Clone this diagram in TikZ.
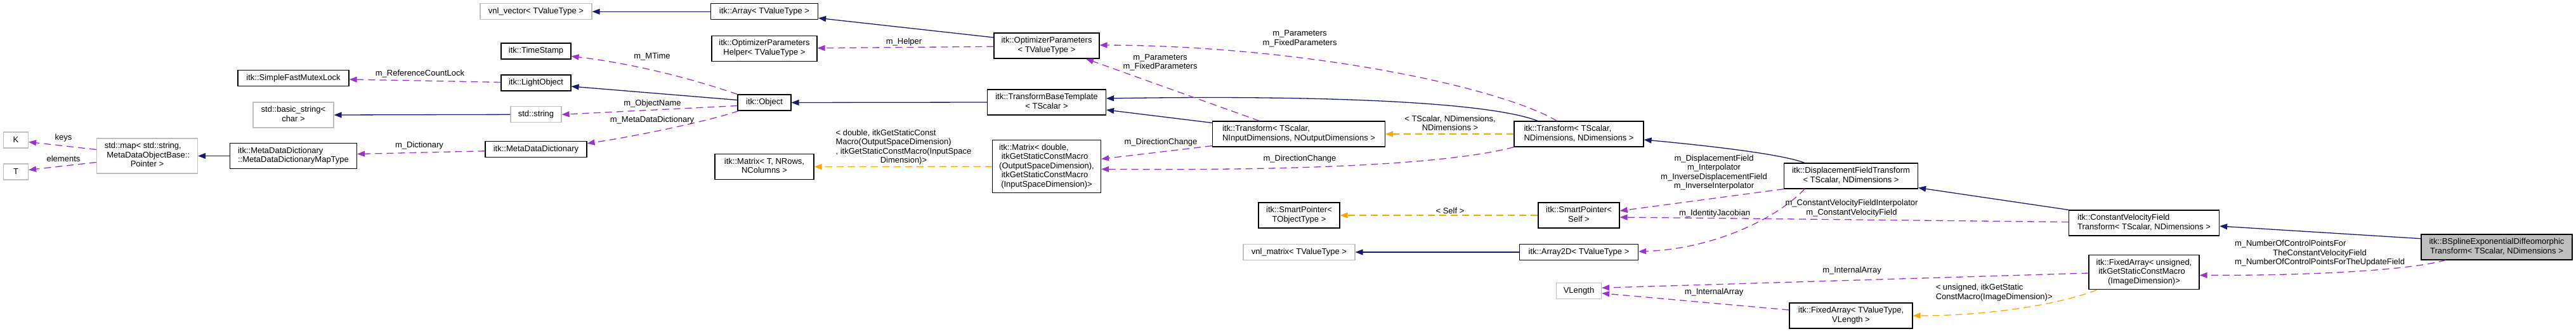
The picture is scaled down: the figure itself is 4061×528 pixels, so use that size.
\documentclass[tikz,border=0pt]{standalone}
\usepackage{fontspec}
\setmainfont{Liberation Sans}
\usetikzlibrary{arrows.meta,calc}
\definecolor{inhblue}{HTML}{191970}
\definecolor{usepurple}{HTML}{9A32CD}
\definecolor{tmplorange}{HTML}{FFA500}
\definecolor{boxgray}{HTML}{BFBFBF}
\newcommand\dxfont{\fontsize{13pt}{14.5pt}\selectfont}
\newcommand\dxl[2]{\begin{tabular}{@{}l@{}}#1\\\multicolumn{1}{@{}c@{}}{#2}\end{tabular}}
\begin{document}
\begin{tikzpicture}[x=1pt,y=-1pt,
  cbox/.style={draw=black, line width=1.2pt, fill=white, inner sep=0pt, font=\dxfont},
  gbox/.style={cbox, draw=boxgray},
  sz/.style 2 args={minimum width=#1pt, minimum height=#2pt},
  inh/.style={draw=inhblue, line width=1.3pt, -{Triangle[length=12pt,width=9pt]}},
  usearr/.style={draw=usepurple, line width=1.3pt, dash pattern=on 11pt off 7pt, -{Triangle[length=12pt,width=9pt]}},
  tmpl/.style={usearr, draw=tmplorange},
  lbl/.style={font=\dxfont, inner sep=0pt}]
\useasboundingbox (0,0) rectangle (4061,528);

% nodes
\node[gbox,sz={39}{25}] (K) at (25,220.5) {K};
\node[gbox,sz={39}{25}] (T) at (25,270.5) {T};
\node[gbox,sz={159}{55}] (stdmap) at (232,245.5) {\dxl{std::map< std::string,\\\ MetaDataObjectBase::}{Pointer >}};
\node[cbox,sz={200}{40}] (maptype) at (462.5,245.5) {\dxl{itk::MetaDataDictionary}{::MetaDataDictionaryMapType}};
\node[gbox,sz={127}{40}] (basicstr) at (462.5,181) {\dxl{std::basic\_string<}{char >}};
\node[cbox,sz={175}{25}] (mutex) at (462.5,122.7) {itk::SimpleFastMutexLock};
\node[gbox,sz={176}{25}] (vnlvec) at (845,18.3) {vnl\_vector< TValueType >};
\node[cbox,sz={110}{25}] (timestamp) at (845,80.5) {itk::TimeStamp};
\node[cbox,sz={110}{25}] (lightobj) at (845,130.5) {itk::LightObject};
\node[gbox,sz={80}{25}] (stdstring) at (845,180.3) {std::string};
\node[cbox,sz={160}{25}] (mdd) at (845,234.8) {itk::MetaDataDictionary};
\node[cbox,sz={169}{25}] (array) at (1205,18.3) {itk::Array< TValueType >};
\node[cbox,sz={166}{40}] (helper) at (1205,76.3) {\dxl{itk::OptimizerParameters}{Helper< TValueType >}};
\node[cbox,sz={84}{25}] (object) at (1205,161.5) {itk::Object};
\node[cbox,sz={156}{40}] (matrixT) at (1205,262.5) {\dxl{itk::Matrix< T, NRows,}{NColumns >}};
\node[cbox,sz={166}{40}] (optparams) at (1650,72) {\dxl{itk::OptimizerParameters}{< TValueType >}};
\node[cbox,sz={187}{40}] (tbt) at (1650,161) {\dxl{itk::TransformBaseTemplate}{< TScalar >}};
\node[cbox,sz={171}{83}] (matrixD) at (1650,262.3) {\dxl{itk::Matrix< double,\\\ itkGetStaticConstMacro\\(OutputSpaceDimension),\\\ itkGetStaticConstMacro}{(InputSpaceDimension)>}};
\node[cbox,sz={272}{40}] (transIn) at (2047.5,211) {\dxl{itk::Transform< TScalar,}{NInputDimensions, NOutputDimensions >}};
\node[cbox,sz={128}{40}] (spT) at (2048,339) {\dxl{itk::SmartPointer<}{TObjectType >}};
\node[gbox,sz={176}{25}] (vnlmat) at (2048,397) {vnl\_matrix< TValueType >};
\node[cbox,sz={204}{40}] (transN) at (2489,211) {\dxl{itk::Transform< TScalar,}{NDimensions, NDimensions >}};
\node[cbox,sz={128}{40}] (spSelf) at (2489,339) {\dxl{itk::SmartPointer<}{Self >}};
\node[cbox,sz={187}{25}] (array2d) at (2489,397) {itk::Array2D< TValueType >};
\node[gbox,sz={71}{25}] (vlength) at (2489,457.7) {VLength};
\node[cbox,sz={211}{40}] (dft) at (2918,277) {\dxl{itk::DisplacementFieldTransform}{< TScalar, NDimensions >}};
\node[cbox,sz={194}{40}] (fatv) at (2918,497) {\dxl{itk::FixedArray< TValueType,}{VLength >}};
\node[cbox,sz={237}{40}] (cvft) at (3380,351) {\dxl{itk::ConstantVelocityField}{Transform< TScalar, NDimensions >}};
\node[cbox,sz={174}{54}] (faun) at (3380,428.7) {\dxl{itk::FixedArray< unsigned,\\\ itkGetStaticConstMacro}{(ImageDimension)>}};
\node[cbox,sz={238}{40},fill=boxgray] (bspline) at (3936,389) {\dxl{itk::BSplineExponentialDiffeomorphic}{Transform< TScalar, NDimensions >}};

% inheritance
\draw[inh] (maptype.west) -- (stdmap.east);
\draw[inh] (stdstring.west) -- (basicstr.east);
\draw[inh] (array.west) -- (vnlvec.east);
\draw[inh] ($(optparams.west)+(0,-13)$) -- ($(array.south east)+(0,-3)$);
\draw[inh] ($(object.west)+(0,-4)$) -- ($(lightobj.east)+(0,5.5)$);
\draw[inh] (tbt.west) -- (object.east);
\draw[inh] ($(transN.north west)+(38,0)$) .. controls (2340,158) and (2050,150) .. ($(tbt.east)+(0,-6)$);
\draw[inh] ($(transIn.north west)+(0,3)$) -- ($(tbt.east)+(0,12)$);
\draw[inh] ($(dft.north west)+(33,0)$) .. controls (2810,243) and (2700,230) .. ($(transN.east)+(0,9)$);
\draw[inh] (cvft.north west) -- ($(dft.south east)+(0,-2)$);
\draw[inh] ($(bspline.west)+(0,-13.3)$) -- ($(cvft.east)+(0,5)$);
\draw[inh] (array2d.west) -- (vnlmat.east);

% usage
\draw[usearr] ($(stdmap.west)+(0,-10)$) -- ($(K.east)+(0,3)$);
\draw[usearr] ($(stdmap.west)+(0,10)$) -- ($(T.east)+(0,-3)$);
\draw[usearr] ($(lightobj.west)+(0,-1)$) -- ($(mutex.east)+(0,2.3)$);
\draw[usearr] ($(mdd.west)+(0,3)$) -- ($(maptype.east)+(0,-3)$);
\draw[usearr] (object.north west) .. controls (1076,119) and (988,99) .. ($(timestamp.east)+(0,8)$);
\draw[usearr] ($(object.west)+(0,5)$) -- (stdstring.east);
\draw[usearr] ($(object.south west)+(2,0)$) .. controls (1120,190) and (1000,215) .. ($(mdd.east)+(0,-9)$);
\draw[usearr] ($(optparams.west)+(0,1.3)$) -- ($(helper.east)+(0,-0.6)$);
\draw[usearr] ($(transIn.north)+(-62,0)$) -- ($(optparams.south)+(62,0)$);
\draw[usearr] ($(transN.north)+(-34.5,0)$) .. controls (2360,135) and (2050,72) .. ($(optparams.east)+(0,-1)$);
\draw[usearr] ($(transIn.south west)+(0,-2)$) -- ($(matrixD.east)+(0,-12)$);
\draw[usearr] (transN.south west) .. controls (2260,265) and (1950,268) .. ($(matrixD.east)+(0,4)$);
\draw[usearr] (dft.south west) -- ($(spSelf.east)+(0,-7)$);
\draw[usearr] ($(cvft.west)+(0,-1.5)$) -- ($(spSelf.east)+(0,3)$);
\draw[usearr] ($(dft.south west)+(33,0)$) .. controls (2800,345) and (2700,392) .. ($(array2d.east)+(0,-1)$);
\draw[usearr] ($(faun.west)+(0,1.3)$) -- ($(vlength.east)+(0,-4.5)$);
\draw[usearr] ($(fatv.west)+(0,-9)$) -- ($(vlength.east)+(0,4)$);
\draw[usearr] ($(bspline.south west)+(39,0)$) .. controls (3800,425) and (3650,434) .. ($(faun.east)+(0,4.6)$);

% template instances
\draw[tmpl] (matrixD.west) -- (matrixT.east);
\draw[tmpl] (transN.west) -- (transIn.east);
\draw[tmpl] (spSelf.west) -- (spT.east);
\draw[tmpl] ($(faun.south west)+(13,0)$) .. controls (3260,475) and (3150,497) .. (fatv.east);

% labels
\node[lbl] (lkeys) at (100,217) {keys};
\node[lbl] (lelem) at (100,250) {elements};
\node[lbl] (lrcl) at (662,116) {m\_ReferenceCountLock};
\node[lbl] (ldict) at (661,229) {m\_Dictionary};
\node[lbl] (lmtime) at (1028,89.3) {m\_MTime};
\node[lbl] (lobjname) at (1028.5,162.7) {m\_ObjectName};
\node[lbl] (lmdd) at (1028,188.7) {m\_MetaDataDictionary};
\node[lbl] (lhelper) at (1425,65.7) {m\_Helper};
\node[lbl,align=center] (lparams1) at (1829,98.2) {m\_Parameters\\m\_FixedParameters};
\node[lbl,align=center] (lparams2) at (2049,61) {m\_Parameters\\m\_FixedParameters};
\node[lbl] (ldir1) at (1830,224.3) {m\_DirectionChange};
\node[lbl] (ldir2) at (2049,250) {m\_DirectionChange};
\node[lbl] (lmatrix) at (1424.5,232) {\dxl{< double, itkGetStaticConst\\Macro(OutputSpaceDimension)\\, itkGetStaticConstMacro(InputSpace}{Dimension)>}};
\node[lbl] (ltrans) at (2286,195.5) {\dxl{< TScalar, NDimensions,}{NDimensions >}};
\node[lbl] (lself) at (2286,331.7) {< Self >};
\node[lbl,align=center] (ldft) at (2702,271.7) {m\_DisplacementField\\m\_Interpolator\\m\_InverseDisplacementField\\m\_InverseInterpolator};
\node[lbl,align=center] (lcvft) at (2919,327.7) {m\_ConstantVelocityFieldInterpolator\\m\_ConstantVelocityField};
\node[lbl] (ljac) at (2703,336) {m\_IdentityJacobian};
\node[lbl] (lint1) at (2919.5,426) {m\_InternalArray};
\node[lbl] (lint2) at (2702,460) {m\_InternalArray};
\node[lbl] (lfa) at (3143.7,461) {\dxl{< unsigned, itkGetStatic}{ConstMacro(ImageDimension)>}};
\node[lbl] (lbsp) at (3657,399.5) {\begin{tabular}{@{}c@{}}\multicolumn{1}{@{}l@{}}{m\_NumberOfControlPointsFor}\\TheConstantVelocityField\\m\_NumberOfControlPointsForTheUpdateField\end{tabular}};
\end{tikzpicture}
\end{document}
